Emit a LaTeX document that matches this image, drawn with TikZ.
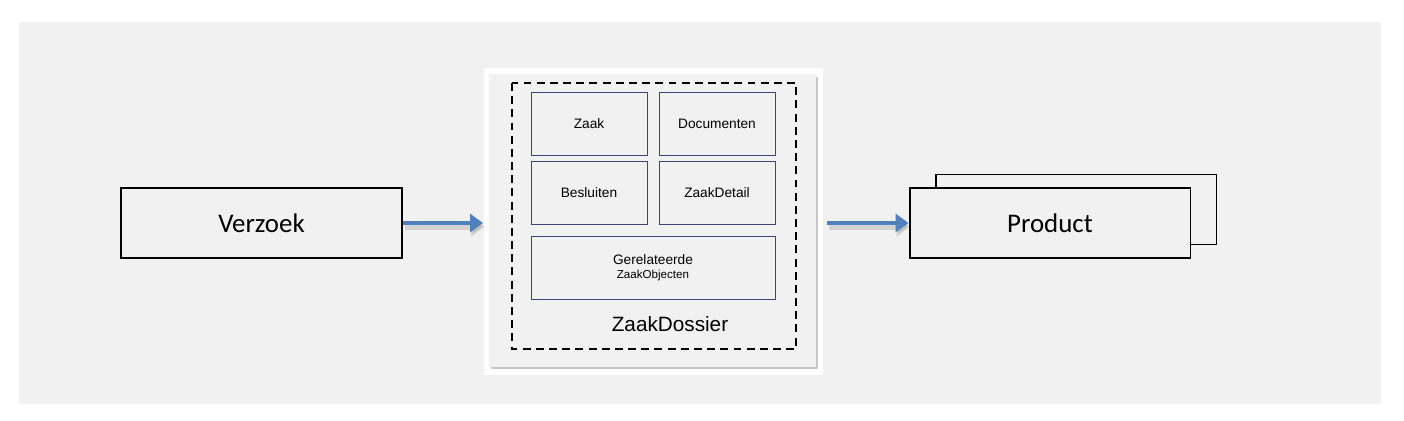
\documentclass[tikz,border=0pt]{standalone}
\usepackage{fontspec}
\setmainfont{Liberation Sans}
\newfontfamily\calfont{Carlito}
\usepackage{tikz}
\usetikzlibrary{arrows.meta, positioning}
\definecolor{bggray}{HTML}{F1F1F1}
\definecolor{flowblue}{HTML}{4F81BD}
\definecolor{boxnavy}{HTML}{3A4580}

\begin{document}
\begin{tikzpicture}
        [
            x=0.02cm, y=-0.02cm,
            bigbox/.style={draw=black, line width=1.1pt, fill=bggray, minimum width=5.62cm,
                minimum height=1.4cm, inner sep=0pt, font=\calfont\fontsize{15.3}{17}\selectfont},
            partbox/.style={draw=boxnavy, line width=0.5pt, minimum width=2.32cm,
                minimum height=1.26cm, inner sep=0pt, font=\fontsize{7.8}{9}\selectfont},
            flow/.style={draw=flowblue, line width=2.8pt, -{Triangle[width=10.2pt,length=7.4pt]}},
            flowshadow/.style={draw=black, opacity=0.12, line width=3.4pt, -{Triangle[width=11pt,length=7.8pt]}},
        ]
        \useasboundingbox (0,0) rectangle (1404,420);
        \fill[bggray] (19,22) rectangle (1381,404);

        % dossier panel
        \node[fill=white, minimum width=6.78cm, minimum height=6.14cm, inner sep=0pt] (panel) at (653.5,221.5) {};
        \fill[black!22] (491,77) rectangle (818,369);
        \fill[bggray] (489,74) rectangle (816,367);
        \draw[line width=1.1pt, dash pattern=on 4.5pt off 3pt] (512,83) rectangle (796,349);

        \node[partbox] (zaak) at (589,123.5) {Zaak};
        \node[partbox] (docs) at (717,123.5) {Documenten};
        \node[partbox] (besluiten) at (589,192.5) {Besluiten};
        \node[partbox] (detail) at (717,192.5) {ZaakDetail};
        \node[partbox, minimum width=4.88cm, align=center] (objecten) at (653,267.5)
            {Gerelateerde\\[-1pt]{\fontsize{6.6}{7}\selectfont ZaakObjecten}};
        \node[font=\fontsize{11.8}{13}\selectfont] (dossier) at (670,324) {ZaakDossier};

        % in and out
        \node[bigbox] (verzoek) at (261.5,223) {Verzoek};
        \node[bigbox] (product2) at (1076,209.5) {};
        \node[bigbox] (product) at (1050,223) {Product};

        \coordinate (intip) at (483,223);
        \coordinate (outstart) at (827,223);
        \draw[flowshadow] ([xshift=1pt,yshift=-2pt]verzoek.east) -- ([xshift=1pt,yshift=-2pt]intip);
        \draw[flowshadow] ([xshift=1pt,yshift=-2pt]outstart) -- ([xshift=1pt,yshift=-2pt]product.west);
        \draw[flow] (verzoek.east) -- (intip);
        \draw[flow] (outstart) -- (product.west);
    \end{tikzpicture}
\end{document}
